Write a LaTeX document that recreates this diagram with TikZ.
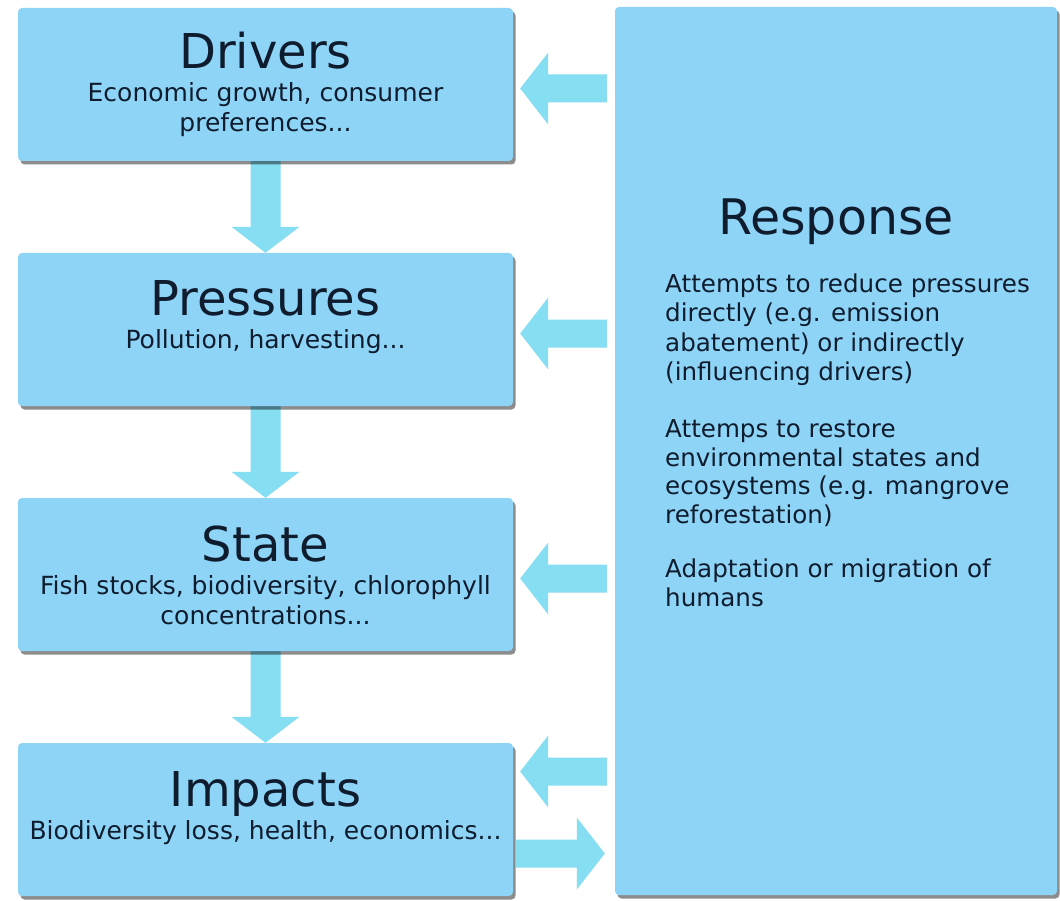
\documentclass[tikz,border=0pt]{standalone}
\usepackage{fontspec}
\setmainfont{DejaVu Sans}
\usetikzlibrary{calc,shadows}
\definecolor{boxblue}{RGB}{142,212,246}
\definecolor{arrowblue}{RGB}{134,222,242}
\definecolor{ink}{RGB}{14,28,46}
\pgfdeclarelayer{bg}
\pgfdeclarelayer{paper}
\pgfsetlayers{paper,bg,main}

% block arrow pointing down from the bottom of #1 to the top of #2
\newcommand\downflow[2]{%
  \fill[flow] ($(#1.south)+(-15,0)$) -- ($(#2.north)+(-15,-26)$)
    -- ($(#2.north)+(-34,-26)$) -- (#2.north) -- ($(#2.north)+(34,-26)$)
    -- ($(#2.north)+(15,-26)$) -- ($(#1.south)+(15,0)$) -- cycle;}
% horizontal block arrow from tail #1 to tip #2; #3 = 1 (right) or -1 (left)
\newcommand\sideflow[3]{%
  \fill[flow] ($(#1)+(0,-14)$) -- ($(#2)+({-#3*28},-14)$)
    -- ($(#2)+({-#3*28},-36)$) -- (#2) -- ($(#2)+({-#3*28},36)$)
    -- ($(#2)+({-#3*28},14)$) -- ($(#1)+(0,14)$) -- cycle;}

\begin{document}
\begin{tikzpicture}[x=1pt,y=-1pt,
  flow/.style={fill=arrowblue},
  panel/.style={rectangle, rounded corners=4pt, fill=boxblue, inner sep=0pt,
    drop shadow={shadow xshift=2.5pt, shadow yshift=-3.5pt, fill=black, opacity=0.45}},
  stage/.style={panel, minimum width=495pt, minimum height=153pt},
  headline/.style={font=\fontsize{48}{52}\selectfont, text=ink, inner sep=0pt, anchor=base},
  detail/.style={font=\fontsize{25}{30}\selectfont, text=ink, inner sep=0pt, anchor=base},
  body/.style={font=\fontsize{24.6}{29}\selectfont, text=ink, inner sep=0pt, anchor=base west},
]
\begin{pgfonlayer}{paper}
  \fill[white] (0,0) rectangle (1060,901);
\end{pgfonlayer}
\useasboundingbox (0,0) rectangle (1060,901);

% the four stages of the chain
\node[stage] (drivers)   at (265.5, 84.5) {};
\node[stage] (pressures) at (265.5,329.5) {};
\node[stage] (state)     at (265.5,574.5) {};
\node[stage] (impacts)   at (265.5,819.5) {};

% response panel
\node[panel, minimum width=442pt, minimum height=888pt] (response) at (836,451) {};

% stage texts
\node[headline] (drivers-t) at ($(drivers.north)+(0,61)$) {Drivers};
\node[detail] (drivers-a) at ($(drivers.north)+(0,94)$) {Economic growth, consumer};
\node[detail] (drivers-b) at ($(drivers.north)+(0,124)$) {preferences...};

\node[headline] (pressures-t) at ($(pressures.north)+(0,63)$) {Pressures};
\node[detail] (pressures-a) at ($(pressures.north)+(0,96)$) {Pollution, harvesting...};

\node[headline] (state-t) at ($(state.north)+(0,64)$) {State};
\node[detail] (state-a) at ($(state.north)+(0,97)$) {Fish stocks, biodiversity, chlorophyll};
\node[detail] (state-b) at ($(state.north)+(0,127)$) {concentrations...};

\node[headline] (impacts-t) at ($(impacts.north)+(0,64)$) {Impacts};
\node[detail] (impacts-a) at ($(impacts.north)+(0,97)$) {Biodiversity loss, health, economics...};

% response texts
\node[headline, font=\fontsize{49}{52}\selectfont] (response-t) at (response.center |- 0,235) {Response};
\foreach \txt/\yb [count=\i] in {
  {Attempts to reduce pressures}/293,
  {directly (e.g. emission}/322,
  {abatement) or indirectly}/351,
  {(influencing drivers)}/380,
  {Attemps to restore}/437,
  {environmental states and}/466,
  {ecosystems (e.g. mangrove}/494,
  {reforestation)}/523,
  {Adaptation or migration of}/577,
  {humans}/606}
  \node[body] (response-\i) at (665,\yb) {\txt};

% connectors
\coordinate (d-tail) at ($(response.west |- drivers.east)+(-8,4)$);
\coordinate (d-tip)  at ($(drivers.east)+(7,4)$);
\coordinate (p-tail) at ($(response.west |- pressures.east)+(-8,4)$);
\coordinate (p-tip)  at ($(pressures.east)+(7,4)$);
\coordinate (s-tail) at ($(response.west |- state.east)+(-8,4)$);
\coordinate (s-tip)  at ($(state.east)+(7,4)$);
\coordinate (i-tail) at ($(response.west |- impacts.east)+(-8,-48)$);
\coordinate (i-tip)  at ($(impacts.east)+(7,-48)$);
\coordinate (o-tail) at ($(impacts.east)+(3,34)$);
\coordinate (o-tip)  at ($(response.west |- impacts.east)+(-10,34)$);

\begin{pgfonlayer}{bg}
  \downflow{drivers}{pressures}
  \downflow{pressures}{state}
  \downflow{state}{impacts}
  \sideflow{d-tail}{d-tip}{-1}
  \sideflow{p-tail}{p-tip}{-1}
  \sideflow{s-tail}{s-tip}{-1}
  \sideflow{i-tail}{i-tip}{-1}
  \sideflow{o-tail}{o-tip}{1}
\end{pgfonlayer}
\end{tikzpicture}
\end{document}
